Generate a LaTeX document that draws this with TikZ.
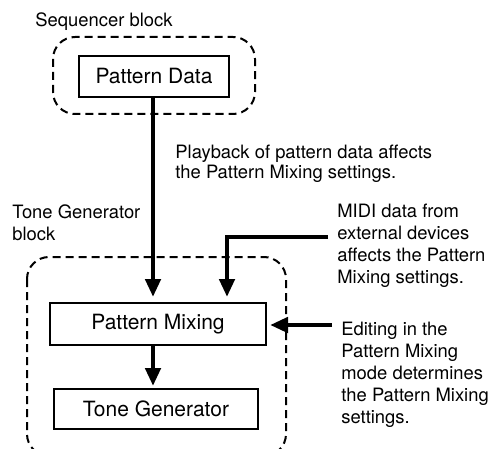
\documentclass[tikz,border=0pt]{standalone}
\usepackage{fontspec}
\setmainfont{TeX Gyre Heros}
\usetikzlibrary{arrows.meta}
\begin{document}
\begin{tikzpicture}[x=0.5pt,y=-0.5pt,
  blockbox/.style={draw,line width=1pt,inner sep=0,minimum width=#1},
  grp/.style={draw,dashed,line width=1pt,dash pattern=on 4pt off 2.5pt,rounded corners=11pt},
  lbl/.style={font=\fontsize{9.2}{11}\selectfont,align=left,inner sep=0,anchor=north west},
  arr/.style={line width=2.3pt,-{Triangle[length=9pt,width=7.5pt]}}]
\useasboundingbox (0,0) rectangle (490,448);
\clip (0,0) rectangle (490,448);
% group frames
\draw[grp] (53,37) rectangle (255,114);
\draw[grp] (27,257) rectangle (286,456);
% boxes
\node[blockbox=150pt/2, minimum height=41pt/2, font=\fontsize{10.5}{12}\selectfont] (pd) at (154,76.5) {Pattern Data};
\node[blockbox=216pt/2, minimum height=42pt/2, font=\fontsize{10.5}{12}\selectfont] (pm) at (158,324) {Pattern Mixing};
\node[blockbox=204pt/2, minimum height=40pt/2, font=\fontsize{10.5}{12}\selectfont] (tg) at (156,409) {Tone Generator};
% labels
\node[lbl] (seq) at (35,12) {Sequencer block};
\node[lbl,font=\fontsize{9.2}{10}\selectfont] (play) at (175,145) {Playback of pattern data affects\\the Pattern Mixing settings.};
\node[lbl] (tgb) at (12,204) {Tone Generator\\block};
\node[lbl] (midit) at (337,204) {MIDI data from\\external devices\\affects the Pattern\\Mixing settings.};
\node[lbl] (edit) at (341,322) {Editing in the\\Pattern Mixing\\mode determines\\the Pattern Mixing\\settings.};
% connectors
\coordinate (pdout) at (153,97);
\coordinate (pmin1) at (153,303);
\coordinate (midi) at (328,237);
\coordinate (pmin2) at (227,303);
\coordinate (editc) at (332,325);
\coordinate (pmin3) at (266,325);
\draw[arr,shorten >=3pt] (pdout) -- (pmin1);
\draw[arr,shorten >=3pt] (midi) -| (pmin2);
\draw[arr,shorten >=2pt] (editc) -- (pmin3);
\draw[arr,shorten >=1pt] (pm.south -| 153,0) -- (tg.north -| 153,0);
\end{tikzpicture}
\end{document}
